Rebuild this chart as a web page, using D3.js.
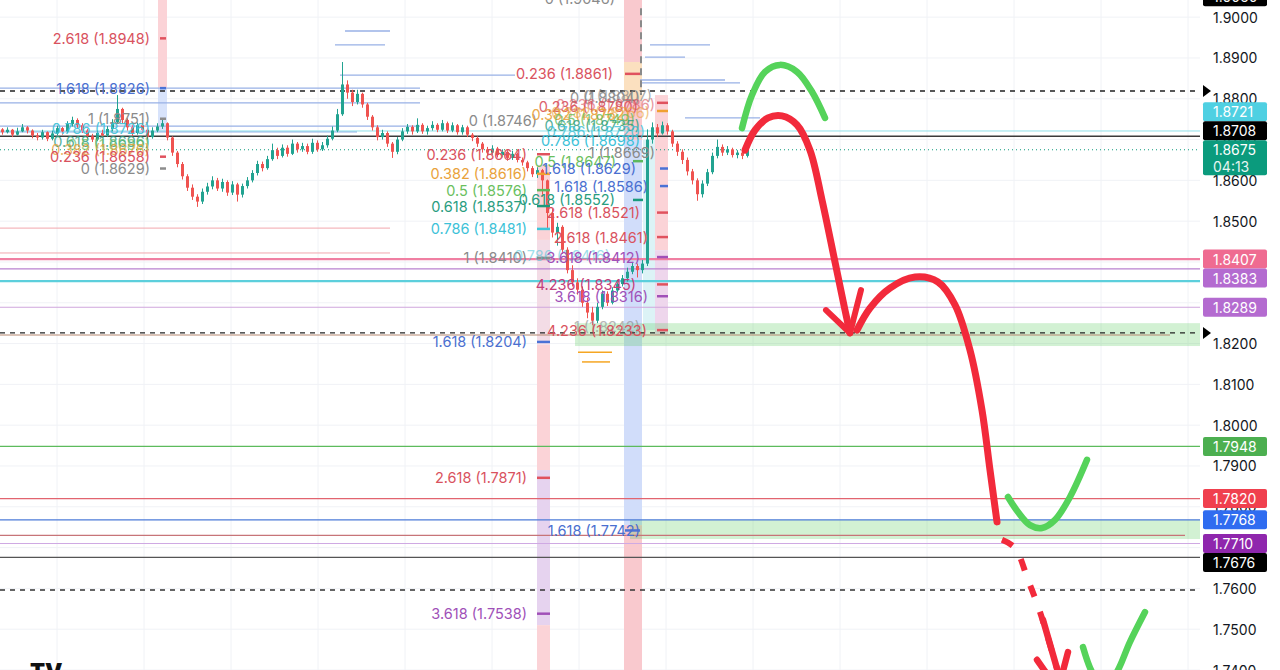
<!DOCTYPE html>
<html><head><meta charset="utf-8">
<script src="https://cdn.jsdelivr.net/npm/d3@7"></script>
<style>html,body{margin:0;padding:0;background:#fff;overflow:hidden}svg{display:block;font-family:Inter,"Noto Sans",sans-serif}</style>
</head><body><svg id="c" width="1280" height="670"></svg>
<script>
// ---------- DATA ----------
const firstOpen = 1.8725;
const closes = [1.8718,1.8724,1.8712,1.8720,1.8730,1.8722,1.8710,1.8705,1.8718,1.8702,
1.8715,1.8728,1.8720,1.8738,1.8748,1.8735,1.8722,1.8708,1.8700,1.8716,
1.8710,1.8726,1.8742,1.8775,1.8748,1.8730,1.8716,1.8735,1.8724,1.8706,
1.8722,1.8732,1.8740,1.8705,1.8668,1.8640,1.8610,1.8582,1.8560,1.8548,
1.8572,1.8585,1.8600,1.8580,1.8596,1.8570,1.8590,1.8565,1.8586,1.8600,
1.8618,1.8640,1.8630,1.8652,1.8674,1.8660,1.8680,1.8665,1.8690,1.8676,
1.8684,1.8670,1.8692,1.8676,1.8686,1.8702,1.8722,1.8762,1.8835,1.8815,
1.8792,1.8812,1.8786,1.8756,1.8730,1.8706,1.8716,1.8690,1.8670,1.8700,
1.8720,1.8731,1.8720,1.8736,1.8720,1.8728,1.8736,1.8724,1.8740,1.8722,
1.8735,1.8718,1.8730,1.8712,1.8704,1.8690,1.8676,1.8668,1.8678,1.8662,
1.8670,1.8655,1.8665,1.8650,1.8644,1.8630,1.8615,1.8625,1.8600,1.8520,
1.8472,1.8486,1.8430,1.8380,1.8350,1.8332,1.8300,1.8276,1.8256,1.8290,
1.8322,1.8300,1.8330,1.8346,1.8360,1.8376,1.8390,1.8380,1.8396,1.8700,
1.8730,1.8715,1.8735,1.8720,1.8690,1.8670,1.8650,1.8622,1.8600,1.8566,
1.8592,1.8620,1.8660,1.8682,1.8668,1.8676,1.8662,1.8668,1.8660,1.8675];
const highs = [1.8728,1.8730,1.8726,1.8729,1.8738,1.8733,1.8725,1.8716,1.8724,1.8720,
1.8722,1.8734,1.8731,1.8745,1.8756,1.8752,1.8740,1.8726,1.8714,1.8722,
1.8724,1.8733,1.8750,1.8809,1.8778,1.8752,1.8735,1.8742,1.8740,1.8728,
1.8730,1.8740,1.8748,1.8742,1.8708,1.8672,1.8645,1.8615,1.8590,1.8566,
1.8580,1.8594,1.8610,1.8606,1.8604,1.8600,1.8598,1.8594,1.8592,1.8608,
1.8625,1.8648,1.8646,1.8660,1.8690,1.8680,1.8688,1.8686,1.8700,1.8694,
1.8692,1.8690,1.8702,1.8698,1.8694,1.8710,1.8732,1.8775,1.8890,1.8845,
1.8822,1.8822,1.8815,1.8790,1.8760,1.8735,1.8724,1.8720,1.8694,1.8706,
1.8728,1.8738,1.8735,1.8752,1.8740,1.8734,1.8745,1.8740,1.8748,1.8744,
1.8742,1.8738,1.8736,1.8734,1.8716,1.8708,1.8694,1.8682,1.8686,1.8682,
1.8676,1.8674,1.8672,1.8668,1.8656,1.8648,1.8635,1.8632,1.8628,1.8602,
1.8530,1.8496,1.8490,1.8436,1.8392,1.8360,1.8340,1.8312,1.8290,1.8300,
1.8330,1.8328,1.8338,1.8356,1.8368,1.8386,1.8400,1.8396,1.8405,1.8725,
1.8742,1.8738,1.8744,1.8740,1.8724,1.8696,1.8676,1.8656,1.8628,1.8605,
1.8600,1.8628,1.8668,1.8700,1.8688,1.8684,1.8680,1.8674,1.8672,1.8682];
const lows = [1.8712,1.8715,1.8706,1.8710,1.8718,1.8715,1.8703,1.8698,1.8700,1.8696,
1.8698,1.8710,1.8712,1.8716,1.8732,1.8728,1.8716,1.8702,1.8694,1.8696,
1.8704,1.8706,1.8720,1.8738,1.8740,1.8722,1.8708,1.8712,1.8716,1.8700,
1.8702,1.8718,1.8726,1.8698,1.8660,1.8632,1.8602,1.8574,1.8552,1.8535,
1.8542,1.8565,1.8578,1.8574,1.8572,1.8562,1.8564,1.8548,1.8558,1.8580,
1.8595,1.8612,1.8622,1.8626,1.8648,1.8652,1.8656,1.8658,1.8662,1.8668,
1.8670,1.8664,1.8665,1.8670,1.8672,1.8680,1.8698,1.8718,1.8758,1.8800,
1.8782,1.8786,1.8778,1.8748,1.8722,1.8698,1.8700,1.8682,1.8655,1.8664,
1.8696,1.8714,1.8712,1.8716,1.8714,1.8712,1.8722,1.8718,1.8720,1.8716,
1.8718,1.8712,1.8712,1.8706,1.8696,1.8682,1.8668,1.8660,1.8662,1.8656,
1.8656,1.8648,1.8650,1.8644,1.8636,1.8622,1.8608,1.8606,1.8560,1.8480,
1.8460,1.8440,1.8420,1.8372,1.8340,1.8320,1.8290,1.8262,1.8245,1.8250,
1.8284,1.8292,1.8296,1.8325,1.8340,1.8352,1.8370,1.8362,1.8372,1.8390,
1.8690,1.8706,1.8712,1.8712,1.8682,1.8660,1.8640,1.8612,1.8590,1.8550,
1.8558,1.8586,1.8615,1.8654,1.8660,1.8662,1.8656,1.8654,1.8652,1.8656];

const priceTicks = [1.74,1.75,1.76,1.77,1.78,1.79,1.80,1.81,1.82,1.83,1.84,1.85,1.86,1.87,1.88,1.89,1.90];
const timeGridBars = [11.4,28.8,46.2,63.6,81,98.4,115.8,133.2,150.6,168,185.4,202.8,220.2,237.6];

// full-width horizontal levels
const levelPrices = [1.8819,1.8721,1.8708,1.8675,1.8407,1.8383,1.8353,1.8289,1.8226,1.8221,1.7948,1.7820,1.7768,1.7730,1.7710,1.7676,1.7596];
const levelColors = ['#222','#8fe0ea','#3a3a3a','#0b9b7d','#f07fa2','#b982cf','#5ccfdc','#cfa6dd','#222','#b58870','#5cbb5c','#e2646f','#4c7bd8','#c77478','#cfa9e3','#555','#333'];
const levelWidths = [1.3,1,1.6,1,2.2,1.3,2.2,1,1.3,1,1.1,1.2,1.2,1.3,1,1.2,1.3];
const levelDash = ['5,5',null,null,'1,3',null,null,null,null,'5,5',null,null,null,null,null,null,null,'5,5'];
const levelEnd = [240,240,240,240,240,240,240,240,240,234,240,240,240,237,240,240,240];
const arrowLevels = [1.8819,1.8226];

// short horizontal drawing segments: [startBar, endBar, price]
const blueSegs = [[69,78,1.8966],[67,77,1.8932],[68,103,1.8858],[0,84,1.8826],[0,84,1.8790],[0,84,1.8733],[0,71.4,1.8719],
  [130,142,1.8932],[129,137,1.8902],[128,145,1.8846],[128,148,1.8839],[137,152,1.8753]];
const pinkSegs = [[0,78,1.8483],[0,78,1.8422]];
const orangeSegs = [[115.6,122.4,1.8179],[116.4,122,1.8155]];

// zones: [startBar, endBar, topPrice, bottomPrice]
const greenZones = [[115,240,1.8250,1.8194],[126,240,1.7768,1.7721]];
// vertical bands: [bar0, bar1, priceTop, priceBottom, colour]
const bands = [
  [31.6,33.4,1.9042,1.8826,'#fbd3d7'],
  [31.6,33.4,1.8826,1.8719,'#d8e3fb'],
  [107.4,110,1.8638,1.8454,'#fbd3d7'],
  [107.4,110,1.8454,1.8197,'#f3dce6'],
  [107.4,110,1.8197,1.7890,'#fbd3d7'],
  [107.4,110,1.7890,1.7510,'#e6d3ef'],
  [107.4,110,1.7510,1.7400,'#fbd3d7'],
  [124.8,128.4,1.9042,1.8890,'#f9c9ce'],
  [124.8,128.4,1.8890,1.8797,'#fbe0bf'],
  [124.8,128.4,1.8797,1.8699,'#f9c9ce'],
  [124.8,128.4,1.8699,1.7755,'#d1ddfa'],
  [124.8,128.4,1.7755,1.7400,'#f9c9ce'],
  [131,133.6,1.8809,1.8429,'#fbd3d7'],
  [131,133.6,1.8429,1.8221,'#eed6ec'],
  [128.6,131,1.8699,1.8233,'#dcf3f6']
];

// fib level ticks: [bar0, bar1, price, colour]
const fibTicks = [
  [32,33.2,1.8948,'#e0525e'],[32,33.2,1.8826,'#4a72d6'],[32,33.2,1.8751,'#8c8c8c'],[32,33.2,1.8658,'#e0525e'],[32,33.2,1.8629,'#8c8c8c'],
  [107.4,110,1.8664,'#e0525e'],[107.4,110,1.8616,'#f0a030'],[107.4,110,1.8576,'#5cb85c'],[107.4,110,1.8537,'#1a9a7c'],[107.4,110,1.8481,'#3cc6da'],
  [107.4,110,1.8410,'#8c8c8c'],[107.4,110,1.8204,'#4a72d6'],[107.4,110,1.7871,'#e0525e'],[107.4,110,1.7538,'#a050b8'],
  [125,128,1.8861,'#e0525e'],[125,128,1.7742,'#4a72d6'],[126.6,128.6,1.8647,'#5cb85c'],[126.6,128.6,1.8552,'#1a9a7c'],
  [131.4,133.6,1.8790,'#e0525e'],[131.4,133.6,1.8770,'#f0a030'],[131.4,133.6,1.8521,'#e0525e'],[131.4,133.6,1.8461,'#e0525e'],
  [131.4,133.6,1.8412,'#a050b8'],[131.4,133.6,1.8345,'#e0525e'],[131.4,133.6,1.8316,'#a050b8'],[131.4,133.6,1.8233,'#e0525e'],
  [132,133.6,1.8629,'#4a72d6'],[132,133.6,1.8586,'#4a72d6']
];

// fib labels: [text, price, endBar, colour, opacity]
const fibLabels = [
  ['2.618 (1.8948)',1.8948,30,'#d9525e',1],['1.618 (1.8826)',1.8826,30,'#4a6fd0',1],['1 (1.8751)',1.8751,30,'#8a8a8a',1],
  ['0.786 (1.8726)',1.8726,30,'#3cc2d8',0.9],['0.618 (1.8696)',1.8696,30,'#2a9d7f',0.8],['0.5 (1.8689)',1.8689,30,'#6abf5e',0.7],
  ['0.382 (1.8676)',1.8676,30,'#e9a23b',0.8],['0.236 (1.8658)',1.8658,30,'#d9525e',1],['0 (1.8629)',1.8629,30,'#8a8a8a',1],
  ['0 (1.8746)',1.8746,107.4,'#8a8a8a',1],['0.236 (1.8664)',1.8664,105.4,'#d9525e',1],['0.382 (1.8616)',1.8616,105.4,'#e9a23b',1],
  ['0.5 (1.8576)',1.8576,105.4,'#6abf5e',1],['0.618 (1.8537)',1.8537,105.4,'#2a9d7f',1],['0.786 (1.8481)',1.8481,105.4,'#3cc2d8',1],
  ['1 (1.8410)',1.8410,105.4,'#8a8a8a',1],['1.618 (1.8204)',1.8204,105.4,'#4a6fd0',1],['2.618 (1.7871)',1.7871,105.4,'#d9525e',1],
  ['3.618 (1.7538)',1.7538,105.4,'#a050b8',1],
  ['0 (1.9046)',1.9046,123,'#8a8a8a',1],['0.236 (1.8861)',1.8861,122.6,'#d9525e',1],
  ['0 (1.8804)',1.8804,128,'#8a8a8a',0.9],['0 (1.8807)',1.8807,130.4,'#8a8a8a',0.7],['0.236 (1.8780)',1.8780,127.6,'#d9525e',0.9],
  ['0.236 (1.8786)',1.8786,131,'#d9525e',0.6],['0.382 (1.8762)',1.8762,126,'#e9a23b',0.9],['0.382 (1.8766)',1.8766,130,'#e9a23b',0.6],
  ['0.5 (1.8749)',1.8749,127,'#6abf5e',0.8],['0.618 (1.8735)',1.8735,128,'#2a9d7f',0.8],['0.786 (1.8720)',1.8720,129,'#3cc2d8',0.8],
  ['0.786 (1.8698)',1.8698,128,'#3cc2d8',1],['1 (1.8669)',1.8669,131,'#8a8a8a',1],['0.5 (1.8647)',1.8647,123.2,'#6abf5e',1],
  ['1.618 (1.8629)',1.8629,127.2,'#4a6fd0',1],['1.618 (1.8586)',1.8586,129.6,'#4a6fd0',1],['0.618 (1.8552)',1.8552,123,'#2a9d7f',1],
  ['2.618 (1.8521)',1.8521,128,'#d9525e',1],['2.618 (1.8461)',1.8461,129.6,'#d9525e',1],['0.786 (1.8416)',1.8416,122,'#3cc2d8',0.5],
  ['3.618 (1.8412)',1.8412,128,'#a050b8',1],['4.236 (1.8345)',1.8345,127.2,'#c4407a',1],['3.618 (1.8316)',1.8316,129.6,'#a050b8',1],
  ['1 (1.8242)',1.8242,128,'#8a8a8a',0.6],['4.236 (1.8233)',1.8233,129.4,'#d9525e',1],['1.618 (1.7742)',1.7742,128,'#4a6fd0',1]
];

// price-scale labels
const axisPrices = [1.9050,1.8721,1.8708,1.8675,1.8407,1.8383,1.8289,1.7948,1.7820,1.7768,1.7710,1.7676];
const axisColors = ['#000','#4fd0e2','#000','#0b9b7d','#ef6b91','#b46bd0','#b46bd0','#4caf50','#f0404e','#2f6cf0','#8f27ad','#000'];
const lastPrice = 1.8675, countdown = '04:13';

// hand-drawn arrows: [bar, price]
const greenArc1 = [[148.4,1.8728],[150.4,1.8809],[153,1.8866],[156,1.8883],[159.4,1.8866],[162.4,1.8817],[165,1.8753]];
const redCurve1 = [[149,1.8674],[151,1.8723],[153.6,1.8753],[156.4,1.8758],[159.4,1.8736],[162,1.8674],[164.4,1.8552],[167,1.8400],[169,1.8282],[170,1.8226]];
const redHead1 = [[165.2,1.8282],[170,1.8226],[172.2,1.8331]];
const redCurve2 = [[171.4,1.8233],[174,1.8287],[178,1.8336],[183,1.8363],[187.6,1.8351],[191,1.8295],[194,1.8184],[196.4,1.8037],[198,1.7890],[199.4,1.7763]];
const redDashed = [[200.4,1.7719],[203,1.7699],[205.6,1.7621],[208,1.7542],[211.6,1.7395]];
const redShaft = [[208.6,1.7523],[211.6,1.7395]];
const redHead2 = [[207.4,1.7425],[211.6,1.7351],[213.6,1.7444]];
const greenV2 = [[201.6,1.7824],[203.6,1.7787],[206,1.7755],[208.4,1.7748],[211,1.7768],[214,1.7824],[217.4,1.7915]];
const greenV3 = [[216.6,1.7456],[218.4,1.7395],[220.4,1.7363],[223,1.7388],[226,1.7469],[229,1.7542]];

// ---------- DRAW ----------
const svg = d3.select('#c');
const plotW = 1200;
const y = d3.scaleLinear().domain([1.74, 1.9042]).range([670, 0]);
const x = d3.scaleLinear().domain([0, 240]).range([0, plotW]);

svg.append('defs').append('clipPath').attr('id','clip').append('rect').attr('width',plotW).attr('height',670);
const g = svg.append('g').attr('clip-path','url(#clip)');

// grid
g.selectAll('.hg').data(priceTicks).join('line').attr('x1',0).attr('x2',plotW)
  .attr('y1',d=>y(d)).attr('y2',d=>y(d)).attr('stroke','#f0f2f6').attr('stroke-width',1);
g.selectAll('.vg').data(timeGridBars).join('line').attr('y1',0).attr('y2',670)
  .attr('x1',d=>x(d)).attr('x2',d=>x(d)).attr('stroke','#f0f2f6').attr('stroke-width',1);

// bands and zones
g.selectAll('.band').data(bands).join('rect')
  .attr('x',d=>x(d[0])).attr('width',d=>x(d[1])-x(d[0]))
  .attr('y',d=>y(d[2])).attr('height',d=>y(d[3])-y(d[2])).attr('fill',d=>d[4]);
g.selectAll('.zone').data(greenZones).join('rect')
  .attr('x',d=>x(d[0])).attr('width',d=>x(d[1])-x(d[0]))
  .attr('y',d=>y(d[2])).attr('height',d=>y(d[3])-y(d[2])).attr('fill','rgba(76,200,80,0.25)');

// segments
const segs = (data, col, w) => g.append('g').selectAll('line').data(data).join('line')
  .attr('x1',d=>x(d[0])).attr('x2',d=>x(d[1])).attr('y1',d=>y(d[2])).attr('y2',d=>y(d[2]))
  .attr('stroke',col).attr('stroke-width',w);
segs(blueSegs,'#98b1e6',1.3);
segs(pinkSegs,'#f2a7ae',1);
segs(orangeSegs,'#f5a623',1.5);

// levels
g.append('g').selectAll('line').data(levelPrices).join('line')
  .attr('x1',0).attr('x2',(d,i)=>x(levelEnd[i])).attr('y1',d=>y(d)).attr('y2',d=>y(d))
  .attr('stroke',(d,i)=>levelColors[i]).attr('stroke-width',(d,i)=>levelWidths[i])
  .attr('stroke-dasharray',(d,i)=>levelDash[i]);

// fib vertical dashed line
g.append('line').attr('x1',x(128.2)).attr('x2',x(128.2)).attr('y1',y(1.9022)).attr('y2',y(1.8809))
  .attr('stroke','#8a8a8a').attr('stroke-width',2).attr('stroke-dasharray','7,5');

// candles
const candles = closes.map((c,i)=>({i, o: i===0?firstOpen:closes[i-1], c, h: highs[i], l: lows[i]}));
const cg = g.append('g');
const cx = d => x(d.i) + 2.5;
cg.selectAll('.wick').data(candles).join('line')
  .attr('x1',cx).attr('x2',cx).attr('y1',d=>y(d.h)).attr('y2',d=>y(d.l))
  .attr('stroke',d=>d.c>=d.o?'#22a391':'#ef5350').attr('stroke-width',1);
cg.selectAll('.body').data(candles).join('rect')
  .attr('x',d=>cx(d)-1.5).attr('width',3)
  .attr('y',d=>y(Math.max(d.o,d.c))).attr('height',d=>Math.max(1,Math.abs(y(d.o)-y(d.c))))
  .attr('fill',d=>d.c>=d.o?'#22a391':'#ef5350');

// fib ticks
g.append('g').selectAll('line').data(fibTicks).join('line')
  .attr('x1',d=>x(d[0])).attr('x2',d=>x(d[1])).attr('y1',d=>y(d[2])).attr('y2',d=>y(d[2]))
  .attr('stroke',d=>d[3]).attr('stroke-width',2.5);

// fib labels
g.append('g').selectAll('text').data(fibLabels).join('text')
  .attr('x',d=>x(d[2])).attr('y',d=>y(d[1])).attr('text-anchor','end').attr('dominant-baseline','central')
  .attr('font-size',14.5).attr('fill',d=>d[3]).attr('opacity',d=>d[4]).text(d=>d[0]);

// hand drawn arrows
const line = d3.line().x(d=>x(d[0])).y(d=>y(d[1])).curve(d3.curveCatmullRom);
const straight = d3.line().x(d=>x(d[0])).y(d=>y(d[1]));
const ag = g.append('g').attr('fill','none').attr('stroke-linecap','round').attr('stroke-linejoin','round');
ag.append('path').attr('d',line(greenArc1)).attr('stroke','#55d35a').attr('stroke-width',6.5);
ag.append('path').attr('d',line(redCurve1)).attr('stroke','#f22a3b').attr('stroke-width',7);
ag.append('path').attr('d',straight(redHead1)).attr('stroke','#f22a3b').attr('stroke-width',6);
ag.append('path').attr('d',line(redCurve2)).attr('stroke','#f22a3b').attr('stroke-width',7);
ag.append('path').attr('d',line(redDashed)).attr('stroke','#f22a3b').attr('stroke-width',6).attr('stroke-dasharray','12,16').attr('stroke-linecap','butt');
ag.append('path').attr('d',straight(redShaft)).attr('stroke','#f22a3b').attr('stroke-width',6.5);
ag.append('path').attr('d',straight(redHead2)).attr('stroke','#f22a3b').attr('stroke-width',6.5);
ag.append('path').attr('d',line(greenV2)).attr('stroke','#55d35a').attr('stroke-width',6.5);
ag.append('path').attr('d',line(greenV3)).attr('stroke','#55d35a').attr('stroke-width',6.5);

// TradingView logo fragment
svg.append('text').attr('x',30).attr('y',679).attr('font-size',22).attr('font-weight',900).attr('fill','#111').text('TV');

// level arrows
svg.selectAll('.tri').data(arrowLevels).join('path')
  .attr('d',d=>`M${plotW+3},${y(d)-6}L${plotW+11},${y(d)}L${plotW+3},${y(d)+6}Z`).attr('fill','#000');

// axis labels with collision handling
const labs = axisPrices.map((p,i)=>({p, col: axisColors[i], last: p===lastPrice, h: p===lastPrice?35:19}));
labs.forEach(l=>{ l.top = y(l.p) - 9.5; });
const fixed = labs.find(l=>l.last);
let prevTop = fixed.top;
labs.filter(l=>!l.last && y(l.p) < y(fixed.p)).sort((a,b)=>y(b.p)-y(a.p)).forEach(l=>{
  if (l.top + l.h > prevTop) l.top = prevTop - l.h; prevTop = l.top; });
let prevBot = fixed.top + fixed.h;
labs.filter(l=>!l.last && y(l.p) > y(fixed.p)).sort((a,b)=>y(a.p)-y(b.p)).forEach(l=>{
  if (l.top < prevBot) l.top = prevBot; prevBot = l.top + l.h; });

// price scale tick labels (hidden only where a label box covers their centre)
const visibleTicks = priceTicks.filter(t => !labs.some(l => y(t) > l.top + 2 && y(t) < l.top + l.h - 2));
svg.append('g').selectAll('text').data(visibleTicks).join('text')
  .attr('x',1213).attr('y',d=>y(d)).attr('dominant-baseline','central')
  .attr('font-size',14).attr('fill','#131722').text(d=>d.toFixed(4));

const lg = svg.append('g');
labs.forEach(l=>{
  lg.append('rect').attr('x',1203).attr('y',l.top).attr('width',64).attr('height',l.h).attr('rx',2).attr('fill',l.col);
  lg.append('text').attr('x',1213).attr('y',l.top+9.5).attr('dominant-baseline','central').attr('font-size',14)
    .attr('fill','#fff').text(l.p.toFixed(4));
  if (l.last) lg.append('text').attr('x',1213).attr('y',l.top+26).attr('dominant-baseline','central').attr('font-size',14)
    .attr('fill','#e6f5f1').text(countdown);
});
</script></body></html>
